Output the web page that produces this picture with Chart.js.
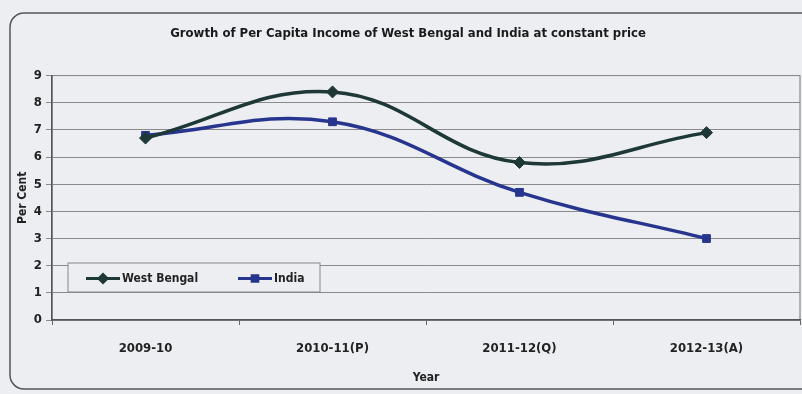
<!DOCTYPE html>
<html>
<head>
<meta charset="utf-8">
<script src="https://cdn.jsdelivr.net/npm/chart.js@4/dist/chart.umd.min.js"></script>
<style>
  html, body { margin: 0; padding: 0; background: #eceef1; }
  #wrap { width: 802px; height: 394px; position: relative; }
</style>
</head>
<body>
<div id="wrap"><canvas id="c"></canvas></div>
<script>
const years = ["2009-10", "2010-11(P)", "2011-12(Q)", "2012-13(A)"];
const westBengal = [6.7, 8.4, 5.8, 6.9];
const india = [6.8, 7.3, 4.7, 3.0];
const yTicks = [0, 1, 2, 3, 4, 5, 6, 7, 8, 9];

const FONT = "'Liberation Sans Narrow', 'DejaVu Sans Condensed', 'Arial Narrow', sans-serif";
const WB_COLOR = "#1e3838";
const IN_COLOR = "#27358e";

// rounded frame round the whole chart
const framePlugin = {
  id: "frame",
  beforeDraw(chart) {
    const { ctx } = chart;
    ctx.save();
    ctx.fillStyle = "#eceef1";
    ctx.fillRect(0, 0, chart.width, chart.height);
    ctx.strokeStyle = "#555";
    ctx.lineWidth = 1.5;
    ctx.beginPath();
    ctx.roundRect(10, 13, chart.width + 20, chart.height - 18, 14);
    ctx.stroke();
    // plot area box
    const a = chart.chartArea;
    ctx.strokeStyle = "#777";
    ctx.lineWidth = 1;
    ctx.strokeRect(a.left, a.top, a.right - a.left, a.bottom - a.top);
    ctx.restore();
  }
};

// legend box inside the plot, bottom left
const boxLegend = {
  id: "boxLegend",
  afterDatasetsDraw(chart) {
    const { ctx } = chart;
    const a = chart.chartArea;
    const x0 = a.left + 16, y0 = a.bottom - 57, w = 252, h = 29;
    ctx.save();
    ctx.fillStyle = "#eceef1";
    ctx.fillRect(x0, y0, w, h);
    ctx.strokeStyle = "#888";
    ctx.lineWidth = 1;
    ctx.strokeRect(x0, y0, w, h);
    ctx.font = "bold 12px " + FONT;
    ctx.textBaseline = "middle";
    const cy = y0 + h / 2 + 1;
    const items = [
      { ds: chart.data.datasets[0], x: x0 + 18 },
      { ds: chart.data.datasets[1], x: x0 + 170 }
    ];
    items.forEach(it => {
      ctx.strokeStyle = it.ds.borderColor;
      ctx.lineWidth = 3;
      ctx.beginPath();
      ctx.moveTo(it.x, cy);
      ctx.lineTo(it.x + 34, cy);
      ctx.stroke();
      Chart.helpers.drawPoint(ctx, { pointStyle: it.ds.pointStyle, radius: 4, borderWidth: 1 }, it.x + 17, cy);
      ctx.fillStyle = it.ds.borderColor;
      ctx.fill();
      ctx.fillStyle = "#222";
      ctx.fillText(it.ds.label, it.x + 36, cy);
    });
    ctx.restore();
  }
};

new Chart(document.getElementById("c"), {
  type: "line",
  data: {
    labels: years,
    datasets: [
      {
        label: "West Bengal",
        data: westBengal,
        borderColor: WB_COLOR,
        backgroundColor: WB_COLOR,
        borderWidth: 3.5,
        tension: 0.4,
        pointStyle: "rectRot",
        pointRadius: 6,
        pointBorderWidth: 1
      },
      {
        label: "India",
        data: india,
        borderColor: IN_COLOR,
        backgroundColor: IN_COLOR,
        borderWidth: 3.5,
        tension: 0.4,
        pointStyle: "rect",
        pointRadius: 5.5,
        pointBorderWidth: 1
      }
    ]
  },
  options: {
    responsive: true,
    maintainAspectRatio: false,
    animation: false,
    layout: { autoPadding: false, padding: { left: 16, right: 2, top: 8, bottom: 10 } },
    plugins: {
      legend: { display: false },
      tooltip: { enabled: false },
      title: {
        display: true,
        text: "Growth of Per Capita Income of West Bengal and India at constant price",
        color: "#1a1a1a",
        font: { family: FONT, size: 13, weight: "bold" },
        padding: { top: 18, bottom: 34 }
      }
    },
    scales: {
      x: {
        offset: true,
        grid: { offset: true, drawOnChartArea: false, drawTicks: true, tickLength: 5, color: "#666" },
        border: { color: "#555", width: 1.5 },
        ticks: { color: "#222", padding: 17, font: { family: FONT, size: 13, weight: "bold", lineHeight: 1 } },
        title: {
          display: true, text: "Year", color: "#222",
          font: { family: FONT, size: 12, weight: "bold", lineHeight: 1 },
          padding: { top: 0, bottom: 0 }
        },
        afterFit(scale) { scale.paddingLeft = 0; scale.paddingRight = 0; }
      },
      y: {
        min: 0,
        max: 9,
        afterBuildTicks(scale) { scale.ticks = yTicks.map(v => ({ value: v })); },
        grid: { color: "#8a8a8a", lineWidth: 1, tickLength: 6 },
        border: { color: "#555", width: 1.5 },
        ticks: { color: "#222", padding: 4, font: { family: FONT, size: 13, weight: "bold" } },
        title: {
          display: true, text: "Per Cent", color: "#222",
          font: { family: FONT, size: 12, weight: "bold" },
          padding: { top: 0, bottom: 2 }
        },
        afterFit(scale) { scale.width = 36; }
      }
    }
  },
  plugins: [framePlugin, boxLegend]
});
</script>
</body>
</html>
